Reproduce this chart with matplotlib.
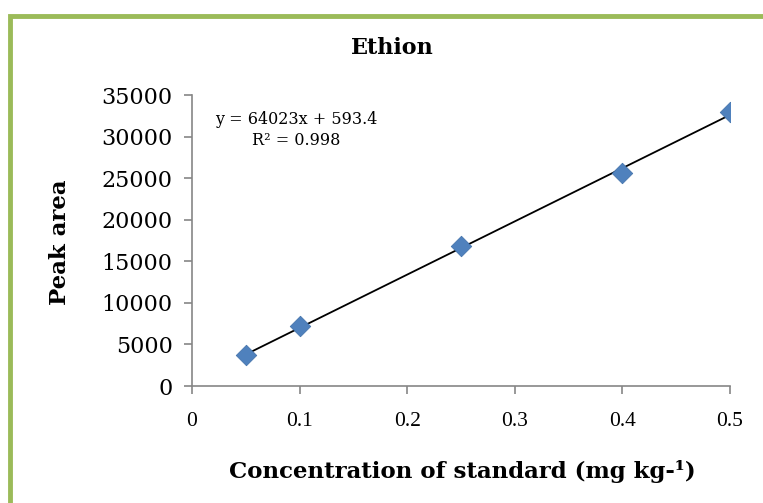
import numpy as np
import matplotlib
matplotlib.use("Agg")
from matplotlib import pyplot as plt
from matplotlib.patches import Rectangle

# calibration data for Ethion
conc = [0.05, 0.1, 0.25, 0.4, 0.5]
area = [3700, 7200, 16800, 25600, 33000]
slope = 64023
intercept = 593.4
r2 = 0.998
xticks = [0, 0.1, 0.2, 0.3, 0.4, 0.5]
yticks = [0, 5000, 10000, 15000, 20000, 25000, 30000, 35000]

fig = plt.figure(figsize=(7.63, 5.03), dpi=100)
ax = fig.add_axes([0.2516, 0.2326, 0.7051, 0.5785])

# green frame around the chart
fig.patches.append(Rectangle((0.0125, -0.05), 1.1, 1.019, transform=fig.transFigure,
                             fill=False, edgecolor="#9bbb59", linewidth=3.5))

xl = np.array([conc[0], conc[-1]])
ax.plot(xl, slope * xl + intercept, color="black", linewidth=1.3, zorder=2)
ax.scatter(conc, area, marker="D", s=110, color="#4f81bd", edgecolor="#3f6fa8",
           linewidth=0.5, zorder=3)

ax.set_xlim(0, 0.5)
ax.set_ylim(0, 35000)
ax.set_xticks(xticks)
ax.set_xticklabels([str(t) for t in xticks])
ax.set_yticks(yticks)
ax.set_yticklabels([str(t) for t in yticks])
for s in ["top", "right"]:
    ax.spines[s].set_visible(False)
for s in ["left", "bottom"]:
    ax.spines[s].set_color("#868686")
    ax.spines[s].set_linewidth(1.2)
ax.tick_params(axis="both", colors="#868686", length=6, width=1.2, direction="out")
ax.tick_params(axis="x", labelcolor="black", labelsize=15.5, pad=13)
ax.tick_params(axis="y", labelcolor="black", labelsize=16, pad=8)
for lab in ax.get_xticklabels():
    lab.set_family("Liberation Serif")
for lab in ax.get_yticklabels():
    lab.set_family("DejaVu Serif")
ax.set_clip_on(False)

ax.text(0.193, 0.88, "y = 64023x + 593.4\nR² = 0.998", transform=ax.transAxes,
        ha="center", va="center", fontsize=11.5, family="DejaVu Serif",
        linespacing=1.25)

fig.text(0.514, 0.904, "Ethion", ha="center", va="center", fontsize=16,
         fontweight="bold", family="DejaVu Serif")
fig.text(0.079, 0.519, "Peak area", ha="center", va="center", rotation=90,
         fontsize=16.5, fontweight="bold", family="DejaVu Serif")
fig.text(0.6055, 0.063, "Concentration of standard (mg kg-¹)", ha="center",
         va="center", fontsize=16.5, fontweight="bold", family="DejaVu Serif")

fig.savefig("out.png", dpi=100)
